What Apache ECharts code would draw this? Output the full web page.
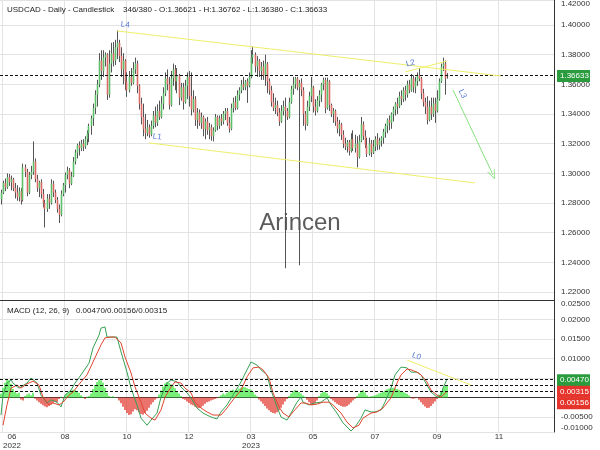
<!DOCTYPE html>
<html><head><meta charset="utf-8">
<script src="https://cdn.jsdelivr.net/npm/echarts@6/dist/echarts.min.js"></script>
<style>html,body{margin:0;padding:0;background:#fff}#c{width:600px;height:450px}</style>
</head><body><div id="c"></div>
<script>
// [open, close, low, high] per daily bar
const candles = [
[1.2825,1.2870,1.2790,1.2890],[1.2870,1.2935,1.2860,1.2950],[1.2935,1.2905,1.2880,1.2965],[1.2905,1.2975,1.2895,1.3000],
[1.2975,1.2940,1.2915,1.2995],[1.2940,1.2960,1.2885,1.2985],[1.2960,1.2900,1.2880,1.2970],[1.2900,1.2870,1.2830,1.2935],
[1.2870,1.2840,1.2815,1.2920],[1.2840,1.2880,1.2810,1.2905],[1.2880,1.2815,1.2790,1.2900],[1.2820,1.3040,1.2810,1.3065],
[1.3040,1.3010,1.2975,1.3060],[1.3010,1.2870,1.2845,1.3030],[1.2870,1.2990,1.2860,1.3010],[1.2990,1.3010,1.2960,1.3050],
[1.3010,1.3080,1.2990,1.3215],[1.3080,1.2960,1.2940,1.3100],[1.2960,1.2900,1.2875,1.2990],[1.2900,1.2940,1.2840,1.2950],
[1.2940,1.2860,1.2830,1.2960],[1.2860,1.2800,1.2770,1.2895],[1.2800,1.2760,1.2635,1.2820],[1.2760,1.2830,1.2740,1.2860],
[1.2830,1.2800,1.2760,1.2860],[1.2800,1.2930,1.2790,1.2960],[1.2930,1.2870,1.2840,1.2950],[1.2870,1.2820,1.2800,1.2890],
[1.2820,1.2760,1.2735,1.2840],[1.2760,1.2720,1.2665,1.2790],[1.2720,1.2860,1.2710,1.2885],[1.2860,1.2920,1.2845,1.2935],
[1.2920,1.2990,1.2870,1.3005],[1.2990,1.3020,1.2960,1.3045],[1.3020,1.2930,1.2900,1.3035],[1.2930,1.2980,1.2920,1.3010],
[1.2980,1.3080,1.2975,1.3110],[1.3080,1.3140,1.3060,1.3160],[1.3140,1.3190,1.3100,1.3200],[1.3190,1.3170,1.3120,1.3215],
[1.3170,1.3200,1.3150,1.3225],[1.3200,1.3180,1.3150,1.3230],[1.3180,1.3230,1.3165,1.3250],[1.3230,1.3270,1.3190,1.3290],
[1.3270,1.3320,1.3210,1.3335],[1.3320,1.3370,1.3260,1.3390],[1.3370,1.3440,1.3320,1.3470],[1.3440,1.3530,1.3400,1.3560],
[1.3530,1.3600,1.3450,1.3630],[1.3600,1.3760,1.3580,1.3810],[1.3760,1.3690,1.3630,1.3830],[1.3690,1.3780,1.3650,1.3830],
[1.3780,1.3800,1.3720,1.3815],[1.3800,1.3530,1.3495,1.3810],[1.3530,1.3740,1.3510,1.3830],[1.3740,1.3810,1.3680,1.3880],
[1.3810,1.3760,1.3720,1.3885],[1.3760,1.3850,1.3730,1.3900],[1.3850,1.3880,1.3770,1.3965],[1.3880,1.3790,1.3750,1.3900],
[1.3790,1.3700,1.3650,1.3850],[1.3700,1.3760,1.3600,1.3810],[1.3760,1.3620,1.3560,1.3770],[1.3620,1.3560,1.3515,1.3680],
[1.3560,1.3650,1.3545,1.3690],[1.3650,1.3610,1.3590,1.3710],[1.3610,1.3700,1.3600,1.3750],[1.3700,1.3740,1.3670,1.3780],
[1.3740,1.3590,1.3540,1.3760],[1.3590,1.3470,1.3430,1.3600],[1.3470,1.3380,1.3330,1.3510],[1.3380,1.3300,1.3250,1.3470],
[1.3300,1.3270,1.3230,1.3400],[1.3270,1.3310,1.3250,1.3360],[1.3310,1.3260,1.3240,1.3330],[1.3260,1.3320,1.3250,1.3355],
[1.3320,1.3390,1.3300,1.3420],[1.3390,1.3340,1.3310,1.3450],[1.3340,1.3420,1.3320,1.3465],[1.3420,1.3380,1.3360,1.3490],
[1.3380,1.3470,1.3370,1.3520],[1.3470,1.3540,1.3430,1.3580],[1.3540,1.3640,1.3520,1.3680],[1.3640,1.3600,1.3560,1.3700],
[1.3600,1.3460,1.3430,1.3650],[1.3460,1.3640,1.3450,1.3690],[1.3640,1.3700,1.3590,1.3740],[1.3700,1.3620,1.3560,1.3730],
[1.3620,1.3660,1.3540,1.3710],[1.3660,1.3510,1.3460,1.3670],[1.3510,1.3580,1.3490,1.3610],[1.3580,1.3480,1.3430,1.3610],
[1.3480,1.3590,1.3470,1.3630],[1.3590,1.3650,1.3500,1.3680],[1.3650,1.3520,1.3450,1.3690],[1.3520,1.3430,1.3390,1.3680],
[1.3430,1.3500,1.3410,1.3560],[1.3500,1.3360,1.3320,1.3520],[1.3360,1.3410,1.3300,1.3440],[1.3410,1.3340,1.3320,1.3430],
[1.3340,1.3380,1.3300,1.3410],[1.3380,1.3300,1.3250,1.3390],[1.3300,1.3350,1.3230,1.3370],[1.3350,1.3290,1.3260,1.3380],
[1.3290,1.3310,1.3230,1.3340],[1.3310,1.3250,1.3220,1.3330],[1.3250,1.3290,1.3215,1.3310],[1.3290,1.3380,1.3280,1.3400],
[1.3380,1.3320,1.3290,1.3390],[1.3320,1.3370,1.3300,1.3390],[1.3370,1.3350,1.3320,1.3400],[1.3350,1.3400,1.3330,1.3420],
[1.3400,1.3420,1.3360,1.3440],[1.3420,1.3340,1.3320,1.3440],[1.3340,1.3300,1.3275,1.3380],[1.3300,1.3440,1.3290,1.3470],
[1.3440,1.3480,1.3410,1.3510],[1.3480,1.3440,1.3425,1.3520],[1.3440,1.3530,1.3430,1.3560],[1.3530,1.3560,1.3490,1.3580],
[1.3560,1.3600,1.3540,1.3630],[1.3600,1.3580,1.3560,1.3650],[1.3580,1.3620,1.3560,1.3630],[1.3620,1.3590,1.3475,1.3640],
[1.3590,1.3650,1.3580,1.3680],[1.3650,1.3780,1.3640,1.3830],[1.3780,1.3800,1.3740,1.3855],[1.3800,1.3720,1.3680,1.3815],
[1.3720,1.3760,1.3650,1.3790],[1.3760,1.3690,1.3650,1.3770],[1.3690,1.3720,1.3630,1.3750],[1.3720,1.3660,1.3630,1.3760],
[1.3660,1.3740,1.3590,1.3800],[1.3740,1.3620,1.3540,1.3750],[1.3620,1.3560,1.3530,1.3640],[1.3560,1.3480,1.3450,1.3590],
[1.3480,1.3440,1.3420,1.3540],[1.3440,1.3460,1.3400,1.3510],[1.3460,1.3410,1.3385,1.3490],[1.3410,1.3350,1.3320,1.3440],
[1.3350,1.3420,1.3340,1.3460],[1.3420,1.3450,1.3390,1.3490],[1.3450,1.3420,1.2360,1.3510],[1.3420,1.3380,1.3360,1.3440],
[1.3380,1.3480,1.3370,1.3510],[1.3480,1.3570,1.3470,1.3590],[1.3570,1.3600,1.3530,1.3650],[1.3600,1.3640,1.3570,1.3650],
[1.3640,1.3580,1.3560,1.3650],[1.3580,1.3610,1.2380,1.3630],[1.3610,1.3560,1.3520,1.3640],[1.3560,1.3400,1.3320,1.3580],
[1.3400,1.3330,1.3290,1.3420],[1.3330,1.3450,1.3320,1.3490],[1.3450,1.3520,1.3420,1.3550],[1.3520,1.3580,1.3480,1.3650],
[1.3580,1.3450,1.3410,1.3590],[1.3450,1.3420,1.3390,1.3500],[1.3420,1.3490,1.3410,1.3520],[1.3490,1.3530,1.3450,1.3560],
[1.3530,1.3600,1.3480,1.3610],[1.3600,1.3630,1.3560,1.3645],[1.3630,1.3440,1.3405,1.3645],[1.3440,1.3620,1.3430,1.3645],
[1.3620,1.3460,1.3420,1.3630],[1.3460,1.3400,1.3380,1.3470],[1.3400,1.3420,1.3340,1.3440],[1.3420,1.3350,1.3320,1.3430],
[1.3350,1.3300,1.3270,1.3380],[1.3300,1.3330,1.3250,1.3360],[1.3330,1.3260,1.3225,1.3340],[1.3260,1.3200,1.3170,1.3290],
[1.3200,1.3180,1.3157,1.3240],[1.3180,1.3210,1.3140,1.3225],[1.3210,1.3150,1.3120,1.3225],[1.3150,1.3230,1.3140,1.3270],
[1.3230,1.3170,1.3150,1.3290],[1.3170,1.3200,1.3140,1.3260],[1.3200,1.3110,1.3040,1.3250],[1.3110,1.3220,1.3100,1.3260],
[1.3220,1.3330,1.3210,1.3380],[1.3330,1.3250,1.3225,1.3350],[1.3250,1.3190,1.3170,1.3290],[1.3190,1.3130,1.3110,1.3240],
[1.3130,1.3200,1.3120,1.3240],[1.3200,1.3140,1.3110,1.3225],[1.3140,1.3180,1.3130,1.3225],[1.3180,1.3230,1.3150,1.3250],
[1.3230,1.3190,1.3157,1.3270],[1.3190,1.3220,1.3160,1.3240],[1.3220,1.3240,1.3180,1.3250],[1.3240,1.3280,1.3200,1.3300],
[1.3280,1.3320,1.3240,1.3335],[1.3320,1.3360,1.3270,1.3370],[1.3360,1.3340,1.3290,1.3390],[1.3340,1.3400,1.3300,1.3410],
[1.3400,1.3430,1.3350,1.3450],[1.3430,1.3470,1.3390,1.3480],[1.3470,1.3450,1.3400,1.3510],[1.3450,1.3520,1.3440,1.3550],
[1.3520,1.3500,1.3460,1.3560],[1.3500,1.3560,1.3480,1.3580],[1.3560,1.3530,1.3490,1.3590],[1.3530,1.3600,1.3510,1.3625],
[1.3600,1.3560,1.3540,1.3630],[1.3560,1.3640,1.3550,1.3670],[1.3640,1.3580,1.3545,1.3660],[1.3580,1.3620,1.3540,1.3650],
[1.3620,1.3660,1.3590,1.3680],[1.3660,1.3640,1.3620,1.3710],[1.3640,1.3540,1.3500,1.3650],[1.3540,1.3480,1.3450,1.3570],
[1.3480,1.3450,1.3400,1.3510],[1.3450,1.3360,1.3330,1.3520],[1.3360,1.3450,1.3350,1.3490],[1.3450,1.3400,1.3360,1.3510],
[1.3400,1.3470,1.3380,1.3510],[1.3470,1.3420,1.3340,1.3510],[1.3420,1.3500,1.3410,1.3560],[1.3500,1.3620,1.3490,1.3640],
[1.3620,1.3720,1.3610,1.3740],[1.3720,1.3740,1.3690,1.3780],[1.3740,1.3640,1.3530,1.3760],[1.36621,1.36633,1.36380,1.36762]
];
const histogram = [
0.0010,0.0025,0.0038,0.0045,0.0044,0.0035,0.0022,0.0015,0.0010,0.0012,-0.0005,-0.0008,0.0004,0.0008,0.0010,0.0006,
0.0012,-0.0003,-0.0008,-0.0012,-0.0016,-0.0020,-0.0023,-0.0025,-0.0022,-0.0018,-0.0014,-0.0010,-0.0012,-0.0004,0.0002,-0.0002,
0.0005,0.0010,0.0014,0.0018,0.0020,0.0019,0.0016,0.0012,0.0006,0.0002,-0.0004,0.0002,0.0004,0.0010,0.0022,0.0032,
0.0040,0.0045,0.0044,0.0038,0.0025,0.0012,0.0004,0.0002,0.0003,0.0001,-0.0001,-0.0008,-0.0015,-0.0024,-0.0032,-0.0040,
-0.0045,-0.0043,-0.0036,-0.0030,-0.0033,-0.0038,-0.0042,-0.0044,-0.0040,-0.0034,-0.0026,-0.0018,-0.0012,-0.0006,-0.0002,0.0008,
0.0018,0.0028,0.0036,0.0040,0.0038,0.0034,0.0030,0.0024,0.0016,0.0010,0.0004,-0.0004,-0.0006,-0.0010,-0.0014,-0.0018,
-0.0020,-0.0024,-0.0026,-0.0027,-0.0025,-0.0021,-0.0016,-0.0012,-0.0010,-0.0008,-0.0006,-0.0004,-0.0002,0.0002,0.0006,0.0010,
0.0008,0.0012,0.0016,0.0018,0.0020,0.0017,0.0020,0.0023,0.0025,0.0027,0.0026,0.0024,0.0022,0.0020,0.0014,0.0008,
0.0003,-0.0005,-0.0010,-0.0016,-0.0022,-0.0028,-0.0033,-0.0037,-0.0040,-0.0041,-0.0038,-0.0033,-0.0026,-0.0018,-0.0010,-0.0004,
0.0004,0.0010,0.0016,0.0019,0.0018,0.0014,0.0010,0.0005,0.0002,-0.0006,-0.0012,-0.0017,-0.0019,-0.0015,-0.0008,0.0004,
0.0010,0.0014,0.0015,0.0011,0.0005,-0.0004,-0.0008,-0.0012,-0.0016,-0.0019,-0.0022,-0.0024,-0.0024,-0.0022,-0.0018,-0.0013,
-0.0008,-0.0003,0.0004,0.0010,0.0016,0.0019,0.0013,0.0006,0.0002,0.0003,0.0004,0.0006,0.0008,0.0010,0.0012,0.0015,
0.0018,0.0021,0.0023,0.0024,0.0025,0.0024,0.0022,0.0020,0.0017,0.0014,0.0012,0.0009,0.0005,-0.0002,-0.0003,-0.0002,
-0.0001,-0.0006,-0.0012,-0.0018,-0.0023,-0.0027,-0.0026,-0.0022,-0.0016,-0.0010,-0.0004,0.0008,0.0016,0.0024,0.0030,0.00315
];
const macdLine = [[0,-0.0045],[1,0.0006],[3,0.0037],[5,0.0045],[6,0.0037],[9,0.0024],[10,0.0022],[13,0.0037],[15,0.0050],[18,0.0037],[20,0.0006],[23,-0.0014],[25,-0.0006],[28,-0.0012],[30,-0.0024],[32,0.0006],[35,0.0019],[37,0.0037],[40,0.0058],[41,0.0058],[44,0.0088],[46,0.0127],[49,0.0160],[50,0.0178],[52,0.0181],[53,0.0155],[55,0.0155],[58,0.0155],[60,0.0117],[63,0.0065],[65,0.0024],[68,-0.0019],[70,-0.0053],[73,-0.0071],[75,-0.0058],[78,-0.0040],[80,0.0001],[83,0.0037],[85,0.0045],[88,0.0040],[90,0.0027],[93,0.0012],[95,-0.0001],[98,-0.0027],[101,-0.0040],[105,-0.0050],[108,-0.0055],[110,-0.0037],[113,-0.0019],[116,0.0006],[120,0.0040],[123,0.0071],[125,0.0091],[128,0.0083],[130,0.0071],[133,0.0058],[135,0.0019],[138,-0.0024],[140,-0.0050],[143,-0.0058],[145,-0.0040],[148,-0.0012],[150,0.0001],[151,-0.0012],[154,-0.0019],[157,-0.0014],[160,-0.0012],[163,-0.0001],[165,-0.0019],[168,-0.0040],[171,-0.0065],[175,-0.0086],[177,-0.0076],[180,-0.0053],[182,-0.0032],[185,-0.0037],[187,-0.0037],[190,-0.0032],[192,-0.0012],[195,0.0024],[197,0.0058],[200,0.0078],[201,0.0081],[203,0.0076],[205,0.0065],[208,0.0065],[210,0.0058],[213,0.0032],[215,0.0014],[218,0.0001],[220,0.0006],[221,0.0024],[223,0.0047]];
const signalLine = [[1,-0.0071],[3,-0.0019],[5,0.0024],[8,0.0032],[10,0.0024],[13,0.0035],[16,0.0042],[19,0.0032],[21,0.0001],[24,-0.0019],[26,-0.0014],[29,-0.0019],[31,-0.0012],[34,0.0006],[36,0.0014],[40,0.0040],[43,0.0058],[46,0.0091],[50,0.0135],[52,0.0153],[55,0.0155],[57,0.0155],[60,0.0140],[62,0.0104],[65,0.0063],[67,0.0027],[70,-0.0012],[72,-0.0040],[75,-0.0053],[77,-0.0058],[80,-0.0032],[82,0.0001],[85,0.0027],[87,0.0040],[90,0.0037],[92,0.0024],[95,0.0012],[97,-0.0012],[100,-0.0027],[103,-0.0037],[106,-0.0045],[110,-0.0045],[113,-0.0027],[116,-0.0006],[120,0.0019],[123,0.0053],[126,0.0076],[129,0.0078],[131,0.0071],[134,0.0050],[136,0.0012],[139,-0.0024],[141,-0.0040],[144,-0.0050],[146,-0.0037],[150,-0.0014],[152,-0.0014],[155,-0.0019],[158,-0.0017],[161,-0.0012],[164,-0.0012],[166,-0.0019],[170,-0.0040],[173,-0.0063],[176,-0.0078],[179,-0.0071],[181,-0.0053],[185,-0.0040],[188,-0.0037],[191,-0.0027],[195,-0.0001],[198,0.0037],[200,0.0058],[203,0.0073],[205,0.0071],[208,0.0065],[210,0.0058],[213,0.0040],[215,0.0019],[218,0.0006],[220,0.0001],[223,0.00156]];

const tickIndex = [1, 32, 63, 94, 125, 156, 187, 218, 249];
const tickText = ['06\n2022', '08', '10', '12', '03\n2023', '05', '07', '09', '11'];
const slotCount = 277;
const lastPrice = 1.36633;
const macdTags = [0.00470, 0.00315, 0.00156];
const trendL4 = [[58, 1.3960], [250, 1.3656]];
const trendL1 = [[74, 1.3205], [237, 1.2935]];
const trendL2 = [[202, 1.3683], [223, 1.3757]];
const trendL3 = [[226, 1.3562], [246, 1.2989]];
const trendL0 = [[203, 0.0096], [235, 0.0032]];
const titleText = 'USDCAD - Daily - Candlestick    346/380 - O:1.36621 - H:1.36762 - L:1.36380 - C:1.36633';
const macdTitle = 'MACD (12, 26, 9)   0.00470/0.00156/0.00315';

const FONT = '"Liberation Sans", Arial, sans-serif';
const PMAX = 1.41685, PMIN = 1.2146;
const MMAX = 0.025, MMIN = -0.008846;

const cats = [];
for (let i = 0; i < slotCount; i++) cats.push(String(i));
const candleTable = candles.map((r, i) => [i, r[0], r[1], r[2], r[3]]);
const isTick = (idx) => tickIndex.indexOf(idx) >= 0;

function renderCandle(params, api) {
  const i = api.value(0), o = api.value(1), c = api.value(2), l = api.value(3), h = api.value(4);
  const pl = api.coord([i, l]), ph = api.coord([i, h]);
  const po = api.coord([i, o]), pc = api.coord([i, c]);
  const x = Math.floor(pl[0]) + 0.5;
  const top = Math.min(po[1], pc[1]);
  const ht = Math.max(1, Math.abs(po[1] - pc[1]));
  return {type: 'group', children: [
    {type: 'line', shape: {x1: x, y1: ph[1], x2: x, y2: pl[1]}, style: {stroke: '#555', lineWidth: 1}},
    {type: 'rect', shape: {x: x - 0.8, y: top, width: 1.6, height: ht}, style: {fill: c >= o ? '#5cbf6a' : '#dc6a64'}}
  ]};
}

function trend(name, pts, color, xi, yi, arrow) {
  return {
    type: 'line', xAxisIndex: xi, yAxisIndex: yi, data: [], silent: true,
    markLine: {
      silent: true, animation: false, precision: 6,
      symbol: arrow ? ['none', 'path://M5,0 L10,10 L9,10 L5,2 L1,10 L0,10 Z'] : 'none',
      symbolSize: [8, 10],
      lineStyle: {color: color, width: 1, type: 'solid'},
      label: {show: true, position: 'insideStartTop', formatter: name, color: '#5479cf', fontSize: 8, distance: 3},
      data: [[{coord: pts[0]}, {coord: pts[1]}]]
    }
  };
}

const axisText = {fontSize: 8, color: '#333', fontFamily: FONT};

const chart = echarts.init(document.getElementById('c'), null, {renderer: 'canvas'});
const option = {
  animation: false,
  textStyle: {fontFamily: FONT},
  title: [
    {text: titleText, left: 7, top: 6, padding: 0, textStyle: {fontSize: 8, fontWeight: 'normal', color: '#222', fontFamily: FONT}},
    {text: macdTitle, left: 7, top: 307, padding: 0, textStyle: {fontSize: 8, fontWeight: 'normal', color: '#222', fontFamily: FONT}}
  ],
  grid: [
    {left: 0, right: 46, top: 0, height: 300, containLabel: false, outerBoundsMode: 'none'},
    {left: 0, right: 46, top: 300, height: 132, containLabel: false, outerBoundsMode: 'none'}
  ],
  xAxis: [
    {gridIndex: 0, type: 'category', data: cats, boundaryGap: true,
     axisLine: {lineStyle: {color: '#333', width: 1}}, axisTick: {show: false}, axisLabel: {show: false},
     splitLine: {show: true, interval: isTick, lineStyle: {color: '#e3e3e3'}}},
    {gridIndex: 1, type: 'category', data: cats, boundaryGap: true,
     axisLine: {lineStyle: {color: '#333', width: 1}}, axisTick: {show: false},
     axisLabel: Object.assign({show: true, interval: isTick, margin: 0, lineHeight: 9, hideOverlap: false,
       formatter: (v) => {
         const k = tickIndex.indexOf(Number(v));
         if (k < 0) return '';
         if (k === 0) return tickText[0].split('\n').map(s => '{s|' + s + '}').join('\n');
         return tickText[k];
       },
       rich: {s: {padding: [0, 0, 0, 18], fontSize: 8, color: '#333', lineHeight: 9}}}, axisText),
     splitLine: {show: true, interval: isTick, lineStyle: {color: '#e3e3e3'}}}
  ],
  yAxis: [
    {gridIndex: 0, type: 'value', position: 'right', min: PMIN, max: PMAX, splitNumber: 10,
     axisLine: {show: true, lineStyle: {color: '#333'}}, axisTick: {show: false},
     axisLabel: Object.assign({margin: 7, showMinLabel: false, showMaxLabel: true, verticalAlignMaxLabel: 'top',
       formatter: (v) => v > 1.4165 ? '1.42000' : v.toFixed(5)}, axisText),
     splitLine: {lineStyle: {color: '#e3e3e3'}}},
    {gridIndex: 1, type: 'value', position: 'right', min: MMIN, max: MMAX, splitNumber: 6,
     axisLine: {show: true, lineStyle: {color: '#333'}}, axisTick: {show: false},
     axisLabel: Object.assign({margin: 7, showMinLabel: true, showMaxLabel: true,
       verticalAlignMinLabel: 'bottom', verticalAlignMaxLabel: 'top',
       formatter: (v) => v < -0.0085 ? '-0.01000' : v.toFixed(5)}, axisText),
     splitLine: {lineStyle: {color: '#e3e3e3'}}}
  ],
  series: [
    {type: 'custom', name: 'USDCAD', xAxisIndex: 0, yAxisIndex: 0, data: candleTable,
     renderItem: renderCandle, encode: {x: 0, y: [1, 2, 3, 4]}, clip: true, z: 3},
    {type: 'line', xAxisIndex: 0, yAxisIndex: 0, data: [], silent: true,
     markLine: {silent: true, symbol: 'none', animation: false, precision: 6, label: {show: false},
       lineStyle: {color: '#111', type: [3, 2], width: 1}, data: [{yAxis: lastPrice}]}},
    trend('L4', trendL4, '#eeee6a', 0, 0, false),
    trend('L1', trendL1, '#eeee6a', 0, 0, false),
    trend('L2', trendL2, '#eeee6a', 0, 0, false),
    trend('L3', trendL3, '#86e07e', 0, 0, true),
    {type: 'bar', name: 'hist', xAxisIndex: 1, yAxisIndex: 1, data: histogram, barWidth: 1.4,
     itemStyle: {color: (p) => p.value >= 0 ? '#3fe83f' : '#e23a30'}},
    {type: 'line', name: 'MACD', xAxisIndex: 1, yAxisIndex: 1, data: macdLine, showSymbol: false,
     lineStyle: {color: '#35a055', width: 1}, z: 4},
    {type: 'line', name: 'Signal', xAxisIndex: 1, yAxisIndex: 1, data: signalLine, showSymbol: false,
     lineStyle: {color: '#e0452f', width: 1}, z: 4},
    {type: 'line', xAxisIndex: 1, yAxisIndex: 1, data: [], silent: true,
     markLine: {silent: true, symbol: 'none', animation: false, precision: 6, label: {show: false},
       lineStyle: {color: '#111', type: [3, 2], width: 1},
       data: macdTags.map(v => ({yAxis: v}))}},
    trend('L0', trendL0, '#eeee6a', 1, 1, false)
  ]
};
chart.setOption(option);

// value tags on the right axes, positioned via the axis scales
const gfx = [];
gfx.push({type: 'text', x: 300, y: 223, z: 0, silent: true,
  style: {text: 'Arincen', fontSize: 24, fill: '#5c5c5c', align: 'center', verticalAlign: 'middle', fontFamily: FONT}});
function tag(y, text, color) {
  gfx.push({type: 'rect', z: 50, shape: {x: 557, y: y - 6, width: 33, height: 12}, style: {fill: color}});
  gfx.push({type: 'text', z: 51, x: 560, y: y, style: {text: text, fill: '#fff', fontSize: 8, verticalAlign: 'middle', fontFamily: FONT}});
}
const py = chart.convertToPixel({yAxisIndex: 0}, lastPrice);
tag(py + 1, lastPrice.toFixed(5), '#2a9c3e');
let prev = -1e9;
macdTags.forEach((v, k) => {
  let y = chart.convertToPixel({yAxisIndex: 1}, v);
  y = Math.max(y + 1, prev + 11.5);
  prev = y;
  tag(y, v.toFixed(5), k === 0 ? '#2a9c3e' : '#e5342b');
});
chart.setOption({graphic: gfx});
</script>
</body></html>
